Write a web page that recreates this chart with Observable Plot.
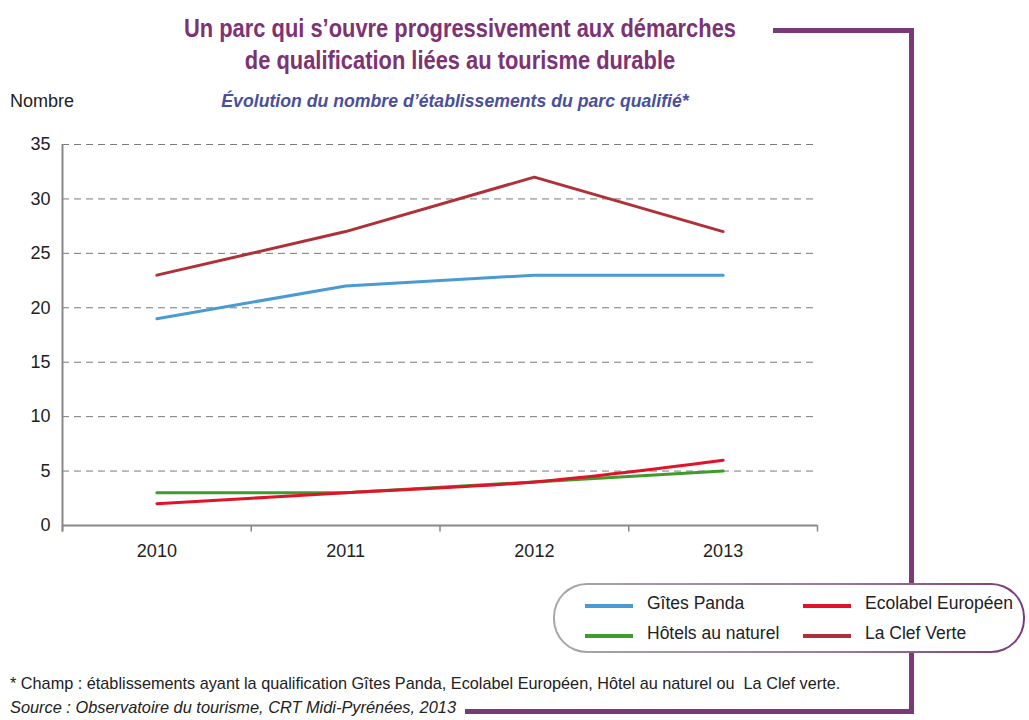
<!DOCTYPE html>
<html><head><meta charset="utf-8">
<script src="https://cdn.jsdelivr.net/npm/d3@7"></script>
<script src="https://cdn.jsdelivr.net/npm/@observablehq/plot@0.6"></script>
<style>
body{margin:0;background:#fff;font-family:"Liberation Sans",Arial,sans-serif;}
#wrap{position:relative;width:1029px;height:720px;overflow:hidden;}
.abs{position:absolute;white-space:nowrap;}
.title{color:#7e3276;font-size:25px;font-weight:bold;text-align:center;width:700px;left:110px;transform:scaleX(0.875);transform-origin:50% 50%;}
.sub{color:#4a4f9c;font-size:19px;font-style:italic;font-weight:bold;text-align:center;width:700px;left:105px;top:90px;transform:scaleX(0.93);transform-origin:50% 50%;}
.frame{position:absolute;background:#7a3a7a;}
#legend{position:absolute;left:553px;top:583px;width:468px;height:66px;border:2px solid transparent;border-radius:34px;
 background:linear-gradient(#fff,#fff) padding-box, linear-gradient(90deg,#a8a8a8,#9a7a9a 60%,#7a3a7a) border-box;}
.li{position:absolute;font-size:17.5px;color:#222;}
.sw{position:absolute;height:4px;width:48px;}
.foot{transform-origin:0 50%;}
</style></head>
<body><div id="wrap">
<div class="abs title" style="top:14px">Un parc qui s’ouvre progressivement aux démarches</div>
<div class="abs title" style="top:46px">de qualification liées au tourisme durable</div>
<div class="abs sub">Évolution du nombre d’établissements du parc qualifié*</div>
<div class="abs" style="left:10px;top:91px;font-size:18px;color:#222">Nombre</div>
<div class="frame" style="left:773px;top:28px;width:141px;height:5px"></div>
<div class="frame" style="left:909px;top:28px;width:5px;height:686px"></div>
<div class="frame" style="left:465px;top:709px;width:449px;height:5px"></div>
<div id="chart" style="position:absolute;left:0;top:130px"></div>
<div id="legend"></div>
<div class="abs foot" style="left:10px;top:674px;font-size:17px;color:#222;transform:scaleX(0.956)">* Champ : établissements ayant la qualification Gîtes Panda, Ecolabel Européen, Hôtel au naturel ou&nbsp; La Clef verte.</div>
<div class="abs foot" style="left:10px;top:698px;font-size:17px;color:#222;font-style:italic;transform:scaleX(0.962)">Source : Observatoire du tourisme, CRT Midi-Pyrénées, 2013</div>
</div>
<script>
const years = [2010, 2011, 2012, 2013];
const gitesPanda = [19, 22, 23, 23];
const hotelsNaturel = [3, 3, 4, 5];
const ecolabel = [2, 3, 4, 6];
const clefVerte = [23, 27, 32, 27];
const seriesNames = ["Gîtes Panda", "Hôtels au naturel", "Ecolabel Européen", "La Clef Verte"];
const seriesColors = ["#4a9bd1", "#3e9b2c", "#e0132a", "#b0303a"];
const yTicks = [0, 5, 10, 15, 20, 25, 30, 35];
const legendOrder = ["Gîtes Panda", "Ecolabel Européen", "Hôtels au naturel", "La Clef Verte"];

const seriesValues = [gitesPanda, hotelsNaturel, ecolabel, clefVerte];
const data = [];
seriesNames.forEach((s, i) => years.forEach((y, j) => data.push({series: s, year: y, value: seriesValues[i][j]})));
const bounds = [years[0] - 0.5, ...years.map(y => y + 0.5)];
const font = "Liberation Sans, Arial, sans-serif";

const chart = Plot.plot({
  width: 1029, height: 430,
  marginLeft: 62, marginRight: 212, marginTop: 14, marginBottom: 35,
  style: {fontFamily: font, fontSize: "18px", color: "#222", background: "transparent"},
  x: {type: "linear", domain: [bounds[0], bounds[bounds.length - 1]], axis: null},
  y: {domain: [0, 35], axis: null},
  color: {domain: seriesNames, range: seriesColors},
  marks: [
    Plot.ruleY(yTicks.filter(d => d > 0), {x1: bounds[0], x2: bounds[bounds.length - 1], stroke: "#7a7a7a", strokeWidth: 1, strokeDasharray: "7,5"}),
    Plot.ruleX(bounds, {y1: -0.6, y2: 0, stroke: "#888", strokeWidth: 1.5}),
    Plot.ruleX([bounds[0]], {y1: -0.6, y2: 35, stroke: "#888", strokeWidth: 2}),
    Plot.ruleY([0], {x1: bounds[0], x2: bounds[bounds.length - 1], stroke: "#888", strokeWidth: 2}),
    Plot.text(yTicks, {x: bounds[0], y: d => d, dx: -12, textAnchor: "end", fill: "#222", fontSize: 18}),
    Plot.text(years, {x: d => d, y: 0, dy: 26, text: d => String(d), fill: "#222", fontSize: 18}),
    Plot.line(data.filter(d => d.series !== "Ecolabel Européen"), {x: "year", y: "value", z: "series", stroke: "series", strokeWidth: 3}),
    Plot.line(data.filter(d => d.series === "Ecolabel Européen"), {x: "year", y: "value", z: "series", stroke: "series", strokeWidth: 3, curve: "catmull-rom"})
  ]
});
document.getElementById("chart").appendChild(chart);

const lg = document.getElementById("legend");
legendOrder.forEach((s, i) => {
  const col = i % 2, row = Math.floor(i / 2);
  const c = seriesColors[seriesNames.indexOf(s)];
  const sw = document.createElement("div");
  sw.className = "sw";
  sw.style.left = (col ? 248 : 30) + "px";
  sw.style.top = (row ? 49 : 19) + "px";
  sw.style.background = c;
  lg.appendChild(sw);
  const t = document.createElement("div");
  t.className = "li";
  t.textContent = s;
  t.style.left = (col ? 310 : 92) + "px";
  t.style.top = (row ? 38 : 8) + "px";
  lg.appendChild(t);
});
</script>
</body></html>
